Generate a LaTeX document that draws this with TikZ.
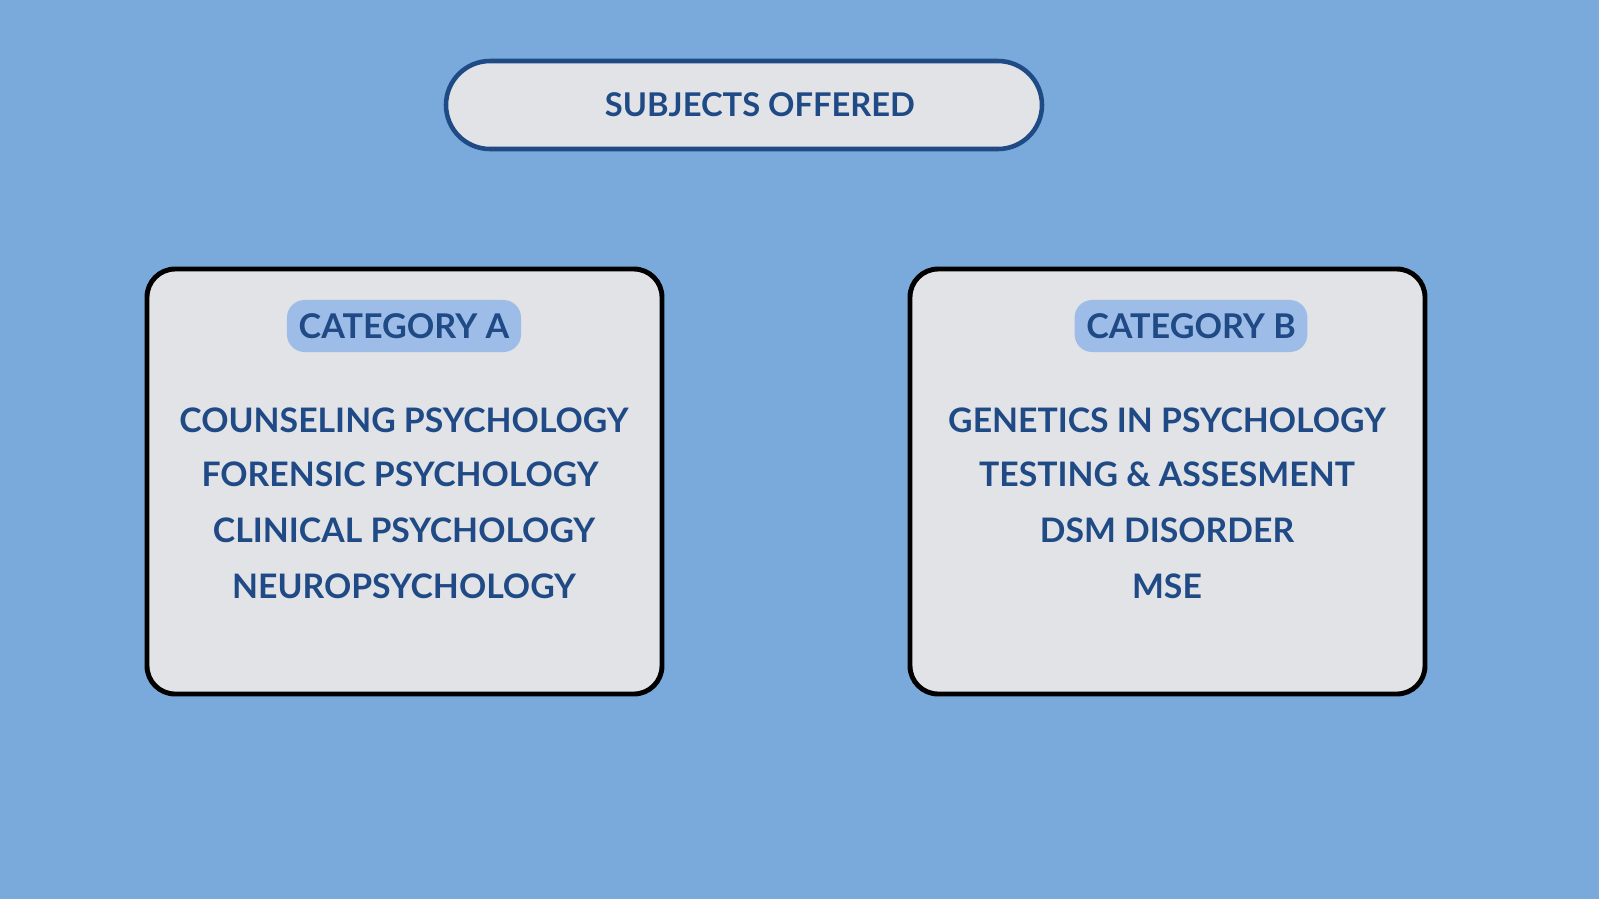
\documentclass[tikz,border=0pt]{standalone}
\usepackage{fontspec}
\setmainfont{Lato}
\usetikzlibrary{positioning}
\definecolor{bgblue}{HTML}{7AAADC}
\definecolor{boxgrey}{HTML}{E1E3E6}
\definecolor{inkblue}{HTML}{1F4A85}
\definecolor{tagblue}{HTML}{9DBDE8}
\tikzset{
  catbox/.style={draw=black,line width=1.4pt,fill=boxgrey,rounded corners=8pt},
  cattag/.style={fill=tagblue,rounded corners=5pt,minimum width=2.32cm,minimum height=0.52cm,text=inkblue,font=\bfseries\fontsize{9.7}{12}\selectfont},
  itemtext/.style={text=inkblue,font=\bfseries\fontsize{9.6}{12}\selectfont}
}
\begin{document}
\begin{tikzpicture}[x=0.01cm,y=-0.01cm]
		\fill[bgblue] (0,0) rectangle (1599,899);
		\useasboundingbox (0,0) rectangle (1599,899);
		% title
		\draw[draw=inkblue,line width=1.3pt,fill=boxgrey,rounded corners=0.44cm] (446,61) rectangle (1042,149);
		\node[text=inkblue,font=\bfseries\fontsize{9.3}{11}\selectfont] (title) at (760,105) {SUBJECTS OFFERED};
		% category A
		\draw[catbox] (147,269) rectangle (662,694);
		\node[cattag] (tagA) at (404,326) {CATEGORY A};
		\node[itemtext] (a1) at (404,420) {COUNSELING PSYCHOLOGY};
		\node[itemtext] (a2) at (400,474) {FORENSIC PSYCHOLOGY};
		\node[itemtext] (a3) at (404,530) {CLINICAL PSYCHOLOGY};
		\node[itemtext] (a4) at (404,586) {NEUROPSYCHOLOGY};
		% category B
		\draw[catbox] (910,269) rectangle (1425,694);
		\node[cattag] (tagB) at (1191,326) {CATEGORY B};
		\node[itemtext] (b1) at (1167,420) {GENETICS IN PSYCHOLOGY};
		\node[itemtext] (b2) at (1167,474) {TESTING \& ASSESMENT};
		\node[itemtext] (b3) at (1167,530) {DSM DISORDER};
		\node[itemtext] (b4) at (1167,586) {MSE};
\end{tikzpicture}
\end{document}
